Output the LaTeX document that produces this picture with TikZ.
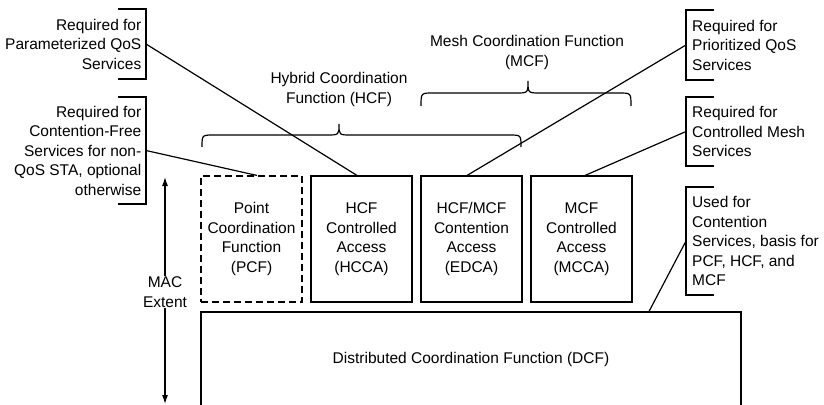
\documentclass[tikz,border=0pt]{standalone}
\usepackage{fontspec}
\setmainfont{Liberation Sans}
\usetikzlibrary{arrows.meta}

\tikzset{
  fnbox/.style={draw, line width=1.1pt, minimum width=101pt, minimum height=126pt,
    align=center, inner sep=0pt},
  lnote/.style={anchor=east, align=right, inner xsep=4.5pt, inner ysep=0pt},
  rnote/.style={anchor=west, align=left, inner xsep=6pt, inner ysep=0pt},
  bracket/.style={line width=1.5pt},
  lead/.style={line width=1.2pt}
}

\begin{document}
\begin{tikzpicture}[x=1pt, y=-1pt, font=\fontsize{15.5}{19.5}\selectfont]

	\useasboundingbox (0,0) rectangle (824,404);
	\clip (0,0) rectangle (824,404);

	    \node[fnbox, dash pattern=on 7pt off 4pt] (pcf) at (251.5,239) {Point\\Coordination\\Function\\(PCF)};
	    \node[fnbox] (hcca) at (361.5,239) {HCF\\Controlled\\Access\\(HCCA)};
	    \node[fnbox] (edca) at (471.5,239) {HCF/MCF\\Contention\\Access\\(EDCA)};
	    \node[fnbox] (mcca) at (581.5,239) {MCF\\Controlled\\Access\\(MCCA)};
	    \node[fnbox, minimum width=540pt, minimum height=94pt] (dcf) at (471,359) {Distributed Coordination Function (DCF)};

	    % MAC extent
	    \node[fill=white, align=center, inner sep=1pt] (mac) at (165,292) {MAC\\Extent};
	    \coordinate (mactop) at (165,177);
	    \coordinate (macbot) at (165,404);
	    \draw[line width=1.2pt, -{Latex[length=9pt,width=6pt]}] (mac) -- (mactop);
	    \draw[line width=1.2pt, -{Latex[length=9pt,width=6pt]}] (mac) -- (macbot);

	    % braces
	    \node[align=center] (hcf) at (339,89.5) {Hybrid Coordination\\Function (HCF)};
	    \draw[line width=1.2pt] (202,147) .. controls (202,135) .. (214,135) -- (327,135)
	        .. controls (339,135) .. (339,124) .. controls (339,135) .. (351,135)
	        -- (509,135) .. controls (521,135) .. (521,147);
	    \node[align=center] (mcf) at (527,52.5) {Mesh Coordination Function\\(MCF)};
	    \draw[line width=1.2pt] (421,106) .. controls (421,93) .. (433,93) -- (516,93)
	        .. controls (528,93) .. (528,81) .. controls (528,93) .. (540,93)
	        -- (619,93) .. controls (631,93) .. (631,106);

	    % notes on the left
	    \node[lnote, minimum height=70pt] (pqos) at (146,44) {Required for\\Parameterized QoS\\Services};
	    \node[lnote, minimum height=107pt] (cfree) at (146,150.5) {Required for\\Contention-Free\\Services for non-\\QoS STA, optional\\otherwise};
	    \foreach \n in {pqos,cfree}
	        \draw[bracket] ([xshift=-28pt]\n.north east) -- (\n.north east) -- (\n.south east) -- ([xshift=-28pt]\n.south east);

	    % notes on the right
	    \node[rnote, minimum height=70pt] (prqos) at (686,45) {Required for\\Prioritized QoS\\Services};
	    \node[rnote, minimum height=69pt] (cmesh) at (686,131.5) {Required for\\Controlled Mesh\\Services};
	    \node[rnote, minimum height=108pt] (cont) at (686,241) {Used for\\Contention\\Services, basis for\\PCF, HCF, and\\MCF};
	    \foreach \n in {prqos,cmesh,cont}
	        \draw[bracket] ([xshift=28pt]\n.north west) -- (\n.north west) -- (\n.south west) -- ([xshift=28pt]\n.south west);

	    % leads
	    \draw[lead] (pqos.east) -- ([xshift=-4.5pt]hcca.north);
	    \draw[lead] (cfree.east) -- ([xshift=5.5pt]pcf.north);
	    \draw[lead] (prqos.west) -- ([xshift=-4.5pt]edca.north);
	    \draw[lead] (cmesh.west) -- ([xshift=3.5pt]mcca.north);
	    \draw[lead] (cont.west) -- ([xshift=178pt]dcf.north);

\end{tikzpicture}
\end{document}
